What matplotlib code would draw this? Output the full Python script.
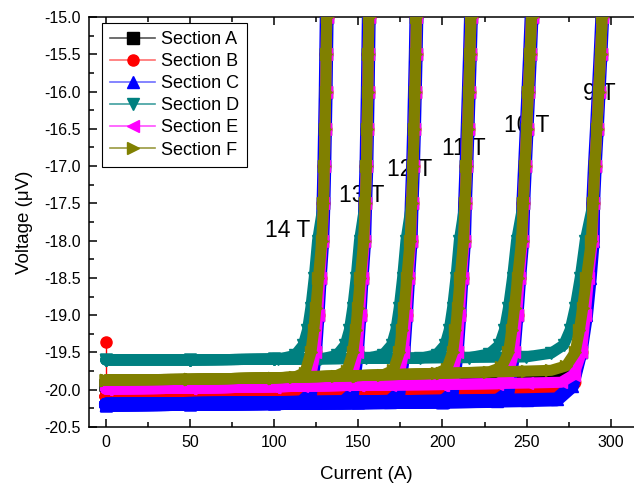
import matplotlib
matplotlib.use('Agg')
import matplotlib.pyplot as plt
from matplotlib.lines import Line2D
from matplotlib.ticker import MultipleLocator, FormatStrFormatter

plt.rcParams['font.family'] = ['Liberation Sans', 'DejaVu Sans']
plt.rcParams['axes.unicode_minus'] = False

# ---------------- data ----------------
sections = ['Section A', 'Section B', 'Section C', 'Section D', 'Section E', 'Section F']
colors = ['#000000', '#ff0000', '#0000ff', '#008080', '#ff00ff', '#808000']
light_colors = ['#555555', '#ff7070', '#7070ff', '#40a0a0', '#ff50ff', '#9a9a40']
markers = ['s', 'o', '^', 'v', '<', '>']

fields = ['14 T', '13 T', '12 T', '11 T', '10 T', '9 T']
label_I = [94.8, 138.3, 166.8, 199.5, 236.4, 283.3]
label_V = [-17.86, -17.40, -17.04, -16.77, -16.45, -16.02]

# baseline voltage of each section (superconducting state)
base_I = [0, 50, 100, 150, 200, 250]
base_A = [-19.93, -19.92, -19.90, -19.875, -19.855, -19.83]
base_B = [-20.08, -20.07, -20.06, -20.05, -20.03, -20.01]
base_C = [-20.20, -20.19, -20.18, -20.17, -20.16, -20.14]
base_D = [-19.60, -19.60, -19.59, -19.58, -19.57, -19.56]
base_E = [-19.99, -19.98, -19.96, -19.94, -19.93, -19.91]
base_F = [-19.87, -19.86, -19.84, -19.81, -19.78, -19.75]

# knee of each trace (one list per field: 14 T ... 9 T)
knee_A = [[(116.3, -19.89), (121.3, -19.82), (124.3, -19.5), (125.8, -19.0), (127.1, -18.5), (128.6, -18.0)],
          [(141.2, -19.87), (146.2, -19.80), (149.2, -19.5), (150.7, -19.0), (152.0, -18.5), (153.5, -18.0)],
          [(168.8, -19.87), (173.8, -19.80), (176.8, -19.5), (178.3, -19.0), (179.6, -18.5), (181.1, -18.0)],
          [(200.5, -19.86), (205.5, -19.79), (208.5, -19.5), (210.0, -19.0), (211.3, -18.5), (212.8, -18.0)],
          [(232.6, -19.85), (238.6, -19.77), (242.2, -19.5), (244.0, -19.0), (245.6, -18.5), (247.4, -18.0)],
          [(270.5, -19.83), (278.0, -19.74), (282.5, -19.5), (284.8, -19.0), (286.7, -18.5), (289.0, -18.0)]]
knee_B = [[(116.3, -20.04), (121.3, -19.96), (124.3, -19.5), (125.8, -19.0), (127.1, -18.5), (128.6, -18.0)],
          [(141.2, -20.04), (146.2, -19.96), (149.2, -19.5), (150.7, -19.0), (152.0, -18.5), (153.5, -18.0)],
          [(168.8, -20.03), (173.8, -19.95), (176.8, -19.5), (178.3, -19.0), (179.6, -18.5), (181.1, -18.0)],
          [(200.5, -20.03), (205.5, -19.95), (208.5, -19.5), (210.0, -19.0), (211.3, -18.5), (212.8, -18.0)],
          [(232.6, -20.02), (238.6, -19.94), (242.2, -19.5), (244.0, -19.0), (245.6, -18.5), (247.4, -18.0)],
          [(270.5, -20.00), (278.0, -19.90), (282.5, -19.5), (284.8, -19.0), (286.7, -18.5), (289.0, -18.0)]]
knee_C = [[(116.3, -20.17), (121.3, -20.07), (124.3, -19.5), (125.8, -19.0), (127.1, -18.5), (128.6, -18.0)],
          [(141.2, -20.17), (146.2, -20.07), (149.2, -19.5), (150.7, -19.0), (152.0, -18.5), (153.5, -18.0)],
          [(168.8, -20.16), (173.8, -20.06), (176.8, -19.5), (178.3, -19.0), (179.6, -18.5), (181.1, -18.0)],
          [(200.5, -20.16), (205.5, -20.06), (208.5, -19.5), (210.0, -19.0), (211.3, -18.5), (212.8, -18.0)],
          [(232.6, -20.15), (238.6, -20.05), (242.2, -19.5), (244.0, -19.0), (245.6, -18.5), (247.4, -18.0)],
          [(268.0, -20.13), (277.0, -19.95), (282.0, -19.5), (285.3, -19.0), (287.5, -18.5), (289.3, -18.0)]]
knee_D = [[(102.3, -19.59), (112.3, -19.54), (117.3, -19.4), (119.8, -19.2), (121.8, -18.9), (123.8, -18.5), (125.8, -18.0)],
          [(127.2, -19.59), (137.2, -19.54), (142.2, -19.4), (144.7, -19.2), (146.7, -18.9), (148.7, -18.5), (150.7, -18.0)],
          [(154.8, -19.58), (164.8, -19.53), (169.8, -19.4), (172.3, -19.2), (174.3, -18.9), (176.3, -18.5), (178.3, -18.0)],
          [(186.5, -19.58), (196.5, -19.53), (201.5, -19.4), (204.0, -19.2), (206.0, -18.9), (208.0, -18.5), (210.0, -18.0)],
          [(215.8, -19.57), (227.8, -19.52), (233.8, -19.4), (236.8, -19.2), (239.2, -18.9), (241.6, -18.5), (244.0, -18.0)],
          [(249.5, -19.56), (264.5, -19.51), (272.0, -19.4), (275.8, -19.2), (278.8, -18.9), (281.8, -18.5), (284.8, -18.0)]]
knee_E = [[(116.3, -19.95), (121.3, -19.87), (124.3, -19.5), (125.8, -19.0), (127.1, -18.5), (128.6, -18.0)],
          [(141.2, -19.94), (146.2, -19.86), (149.2, -19.5), (150.7, -19.0), (152.0, -18.5), (153.5, -18.0)],
          [(168.8, -19.94), (173.8, -19.86), (176.8, -19.5), (178.3, -19.0), (179.6, -18.5), (181.1, -18.0)],
          [(200.5, -19.93), (205.5, -19.85), (208.5, -19.5), (210.0, -19.0), (211.3, -18.5), (212.8, -18.0)],
          [(232.6, -19.92), (238.6, -19.84), (242.2, -19.5), (244.0, -19.0), (245.6, -18.5), (247.4, -18.0)],
          [(270.5, -19.90), (278.0, -19.80), (282.5, -19.5), (284.8, -19.0), (286.7, -18.5), (289.0, -18.0)]]
knee_F = [[(112.3, -19.83), (118.3, -19.77), (121.8, -19.5), (123.5, -19.2), (124.8, -18.9), (126.3, -18.5), (128.3, -18.0)],
          [(137.2, -19.81), (143.2, -19.75), (146.7, -19.5), (148.4, -19.2), (149.7, -18.9), (151.2, -18.5), (153.2, -18.0)],
          [(164.8, -19.80), (170.8, -19.74), (174.3, -19.5), (176.0, -19.2), (177.3, -18.9), (178.8, -18.5), (180.8, -18.0)],
          [(196.5, -19.78), (202.5, -19.72), (206.0, -19.5), (207.7, -19.2), (209.0, -18.9), (210.5, -18.5), (212.5, -18.0)],
          [(227.8, -19.76), (235.0, -19.70), (239.2, -19.5), (241.2, -19.2), (242.8, -18.9), (244.6, -18.5), (247.0, -18.0)],
          [(264.5, -19.74), (273.5, -19.68), (278.8, -19.5), (281.3, -19.2), (283.3, -18.9), (285.5, -18.5), (288.5, -18.0)]]

# common steep (normal-state) part of each field's trace
spike_V = [-17.5, -17.0, -16.5, -16.0, -15.5, -15.0, -14.8]
spike_I = [[129.3, 129.8, 130.2, 130.6, 130.9, 131.2, 131.3],
           [154.1, 154.8, 155.2, 155.6, 155.9, 156.2, 156.3],
           [181.7, 182.5, 183.1, 183.6, 184.1, 184.5, 184.6],
           [213.4, 214.2, 214.9, 215.6, 216.3, 216.9, 217.1],
           [248.0, 249.0, 250.0, 251.0, 252.0, 252.9, 253.2],
           [289.5, 290.5, 291.7, 292.8, 293.9, 294.9, 295.2]]

# isolated first reading of Section B
B_out_I = [0]
B_out_V = [-19.36]

bases = [base_A, base_B, base_C, base_D, base_E, base_F]
knees = [knee_A, knee_B, knee_C, knee_D, knee_E, knee_F]
line_w = [8, 8, 10, 8, 8, 8]

# ---------------- figure ----------------
x_left, x_right = -10, 330
px_per_A = 505 / 300
ax_w = (x_right - x_left) * px_per_A
fig = plt.figure(figsize=(6.34, 4.87), dpi=100)
ax = fig.add_axes([89 / 634, 60 / 487, ax_w / 634, 410 / 487])

for s in range(len(sections)):
    for f in range(len(fields)):
        knee = knees[s][f]
        xs = [i for i in base_I if i < knee[0][0]] + [k[0] for k in knee] + spike_I[f]
        ys = [v for i, v in zip(base_I, bases[s]) if i < knee[0][0]] + [k[1] for k in knee] + spike_V
        ax.plot(xs, ys, color=colors[s], lw=line_w[s], marker=markers[s], ms=9,
                solid_joinstyle='round', solid_capstyle='round', zorder=3 + s)

ax.plot([B_out_I[0], base_I[0]], [B_out_V[0], base_B[0]], color=colors[1], lw=1, zorder=3)
ax.plot(B_out_I, B_out_V, ls='none', marker='o', ms=8, color=colors[1], zorder=3)

for t, x, y in zip(fields, label_I, label_V):
    ax.text(x, y, t, fontsize=16.5, ha='left', va='center', zorder=2)

ax.set_xlim(x_left, x_right)
ax.set_ylim(-20.5, -15.0)
ax.xaxis.set_major_locator(MultipleLocator(50))
ax.xaxis.set_minor_locator(MultipleLocator(25))
ax.yaxis.set_major_locator(MultipleLocator(0.5))
ax.yaxis.set_minor_locator(MultipleLocator(0.25))
ax.yaxis.set_major_formatter(FormatStrFormatter('%.1f'))
ax.set_xticks([0, 50, 100, 150, 200, 250, 300])
ax.tick_params(which='both', direction='in', top=True, right=False, width=1.1, labelsize=11.5)
ax.tick_params(which='major', length=6, pad=6)
ax.tick_params(which='minor', length=3.5)
for sp in ax.spines.values():
    sp.set_linewidth(1.1)
ax.spines['right'].set_visible(False)

ax.set_xlabel('Current (A)', fontsize=13.5)
ax.xaxis.set_label_coords((366.5 - 89) / ax_w, -0.095)
ax.set_ylabel('Voltage (μV)', fontsize=13.5, labelpad=8)

handles = [Line2D([], [], color=light_colors[i], lw=1.2, marker=markers[i], ms=8,
                  markerfacecolor=colors[i], markeredgecolor=colors[i])
           for i in range(len(sections))]
leg = ax.legend(handles, sections, loc='upper left', bbox_to_anchor=(13 / ax_w, 0.985),
                borderaxespad=0, fontsize=13, frameon=True, fancybox=False,
                edgecolor='black', framealpha=1, labelspacing=0.28, handlelength=2.5,
                handletextpad=0.3, borderpad=0.45)
leg.get_frame().set_linewidth(0.8)
leg.set_zorder(20)

fig.savefig('out.png', dpi=100)
